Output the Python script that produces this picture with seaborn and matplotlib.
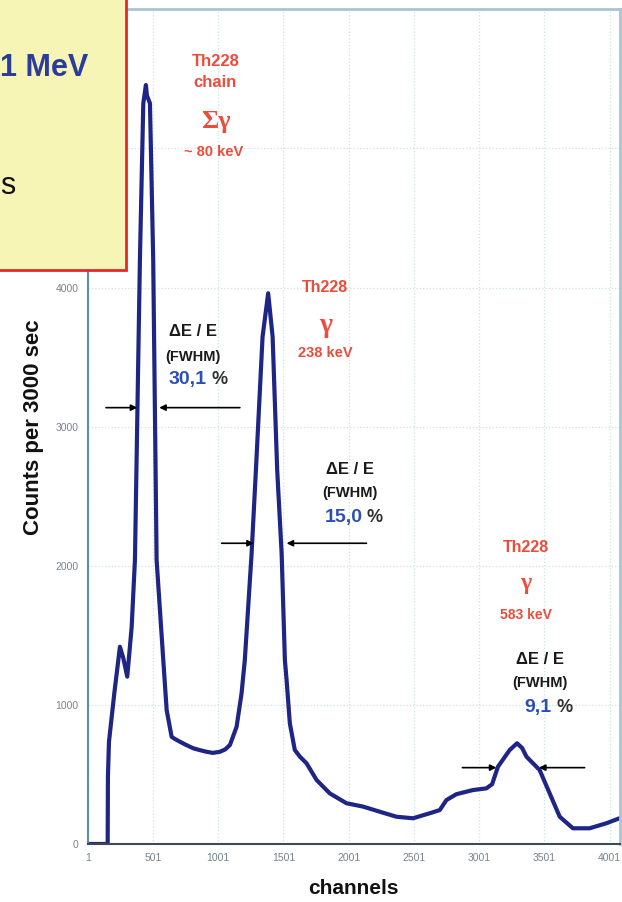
import matplotlib
matplotlib.use("Agg")
import matplotlib.pyplot as plt
from matplotlib.patches import Rectangle
import seaborn as sns
import pandas as pd

# spectrum (channel, counts per 3000 s)
channels = [1, 150, 154, 156, 164, 205, 248, 274, 304, 338, 363, 401, 427, 447, 455,
            478, 503, 529, 580, 606, 644, 660, 708, 760, 810, 860, 912, 960, 1014,
            1055, 1091, 1142, 1180, 1205, 1257, 1290, 1341, 1384, 1418, 1453, 1487,
            1512, 1525, 1550, 1588, 1627, 1678, 1755, 1856, 1984, 2111, 2239, 2367,
            2494, 2622, 2699, 2750, 2826, 2954, 3056, 3100, 3145, 3235, 3291, 3330,
            3363, 3464, 3541, 3618, 3719, 3847, 3975, 4076]
counts = [0, 0, 0, 484, 735, 1085, 1418, 1335, 1203, 1562, 2042, 4198, 5325, 5456, 5380,
          5325, 4198, 2042, 1323, 963, 771, 760, 735, 710, 688, 675, 663, 655, 663,
          680, 712, 843, 1083, 1323, 2090, 2689, 3647, 3959, 3647, 2689, 2090,
          1323, 1179, 867, 676, 628, 580, 460, 364, 293, 269, 232, 196,
          185, 221, 244, 316, 358, 388, 400, 430, 556, 676, 724, 690,
          628, 532, 364, 196, 113, 113, 149, 185]

tick_channels = [1, 501, 1001, 1501, 2001, 2501, 3001, 3501, 4001]
tick_counts = [0, 1000, 2000, 3000, 4000, 5000, 6000]

# peak annotations
peak_labels = [["Th228", "chain", "Σγ", "~ 80 keV"], ["Th228", "γ", "238 keV"], ["Th228", "γ", "583 keV"]]
resolutions = ["30,1", "15,0", "9,1"]

df = pd.DataFrame({"channel": channels, "counts": counts})

sns.set_theme(style="white")
plt.rcParams["font.family"] = ["Liberation Sans", "DejaVu Sans"]

fig = plt.figure(figsize=(6.22, 9.02), dpi=100)
ax = fig.add_axes([0.141, 0.0643, 0.8558, 0.9253])

sns.lineplot(data=df, x="channel", y="counts", ax=ax, color="#1f2585", linewidth=3.0)

ax.set_xlim(1, 4080)
ax.set_ylim(0, 6000)
ax.set_xticks(tick_channels)
ax.set_xticklabels([str(t) for t in tick_channels])
ax.set_yticks(tick_counts)
ax.tick_params(axis="both", labelsize=7.5, labelcolor="#77838f", colors="#6f97a8",
               length=3, width=1, direction="out")
ax.tick_params(axis="both", labelcolor="#77838f")
ax.grid(True, linestyle=":", color="#c8e4e4", linewidth=0.9)

ax.spines["left"].set_color("#5d8ea3")
ax.spines["left"].set_linewidth(1.5)
ax.spines["bottom"].set_color("#3c4a55")
ax.spines["bottom"].set_linewidth(1.5)
for s in ["top", "right"]:
    ax.spines[s].set_color("#a8c4d0")
    ax.spines[s].set_linewidth(2)

ax.set_xlabel("channels", fontsize=15, fontweight="bold", color="#111111")
ax.set_ylabel("Counts per 3000 sec", fontsize=16, fontweight="bold", color="#111111")
ax.xaxis.set_label_coords(0.5, -0.042)
ax.yaxis.set_label_coords(-0.083, 0.5)

# red peak labels
red = "#ee4b3b"
ax.text(980, 5622, "Th228", color=red, fontsize=12, fontweight="bold", ha="center", va="center")
ax.text(980, 5471, "chain", color=red, fontsize=12, fontweight="bold", ha="center", va="center")
ax.text(980, 5191, "Σγ", color=red, fontsize=19, family="Liberation Serif", fontweight="bold",
        ha="center", va="center")
ax.text(965, 4975, "~ 80 keV", color=red, fontsize=10.5, fontweight="bold", ha="center", va="center")

ax.text(1821, 4004, peak_labels[1][0], color=red, fontsize=11.5, fontweight="bold", ha="center", va="center")
ax.text(1821, 3731, peak_labels[1][1], color=red, fontsize=20, family="Liberation Serif", fontweight="bold",
        ha="center", va="center")
ax.text(1821, 3530, peak_labels[1][2], color=red, fontsize=10.5, fontweight="bold", ha="center", va="center")

ax.text(3357, 2128, peak_labels[2][0], color=red, fontsize=11.5, fontweight="bold", ha="center", va="center")
ax.text(3357, 1876, peak_labels[2][1], color=red, fontsize=17, family="Liberation Serif", fontweight="bold",
        ha="center", va="center")
ax.text(3357, 1646, peak_labels[2][2], color=red, fontsize=10, fontweight="bold", ha="center", va="center")

# resolution labels
blue = "#2c4fb6"
groups = [(808, 3683, 3501, 3336, 915, 953),
          (2010, 2689, 2523, 2344, 2110, 2140),
          (3470, 1323, 1157, 978, 3557, 3594)]
for (cx, y1, y2, y3, xr, xp), res in zip(groups, resolutions):
    ax.text(cx, y1, "ΔE / E", color="#1a1a1a", fontsize=12, fontweight="bold", ha="center", va="center")
    ax.text(cx, y2, "(FWHM)", color="#1a1a1a", fontsize=10.5, fontweight="bold", ha="center", va="center")
    ax.text(xr, y3, res, color=blue, fontsize=14, fontweight="bold", ha="right", va="center")
    ax.text(xp, y3, "%", color="#333333", fontsize=13, fontweight="bold", ha="left", va="center")

# FWHM arrows
arrows = [((141, 3137), (381, 3137)), ((1167, 3137), (549, 3137)),
          ((1027, 2162), (1274, 2162)), ((2137, 2162), (1525, 2162)),
          ((2872, 549), (3133, 549)), ((3809, 549), (3459, 549))]
for tail, head in arrows:
    ax.annotate("", xy=head, xytext=tail,
                arrowprops=dict(arrowstyle="-|>", color="black", lw=1.2,
                                mutation_scale=9, shrinkA=0, shrinkB=0))

# yellow slide box overlapping the top-left corner
box = Rectangle((-0.01, 1 - 270 / 902), 126 / 622 + 0.01, 270 / 902 + 0.01,
                transform=fig.transFigure, facecolor="#f7f5b6", edgecolor="#e8262a",
                linewidth=2, zorder=5)
fig.patches.append(box)
fig.text(0.0, 1 - 68 / 902, "1 MeV", color="#2b3d9b", fontsize=22, fontweight="bold",
         ha="left", va="center", zorder=6)
fig.text(0.0, 1 - 186 / 902, "s", color="#111111", fontsize=22,
         ha="left", va="center", zorder=6)

fig.savefig("out.png", dpi=100)
